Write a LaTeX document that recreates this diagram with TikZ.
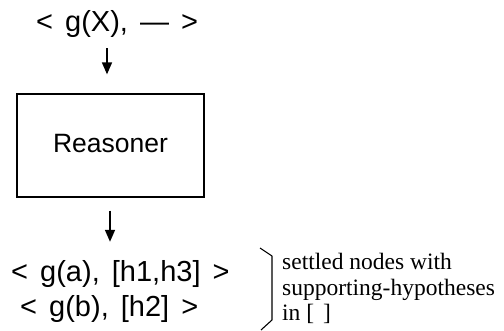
\documentclass[tikz,border=0pt]{standalone}
\usepackage{fontspec}
\setmainfont{Liberation Serif}
\newfontfamily\hv[WordSpace=1.5]{Liberation Sans}
\usetikzlibrary{arrows.meta}
\begin{document}
\begin{tikzpicture}[x=1pt,y=-1pt,
  bigtxt/.style={inner sep=0pt, anchor=base west, font=\hv\fontsize{29}{32}\selectfont},
  note/.style={inner sep=0pt, anchor=base west, font=\fontsize{23.5}{26}\selectfont},
  arr/.style={line width=1.6pt, -{Triangle[length=12pt,width=10pt]}},
  reasonerbox/.style={draw, line width=1.3pt, minimum width=187pt, minimum height=103pt,
    inner sep=0pt, text depth=4pt, font=\hv\fontsize{26.5}{30}\selectfont}]
\useasboundingbox (0,0) rectangle (504,331);
\node[bigtxt] (top) at (36,32) {< g(X), — >};
\node[reasonerbox] (box) at (110.5,145.5) {Reasoner};
\node[bigtxt] (ra) at (11,282) {< g(a), [h1,h3] >};
\node[bigtxt] (rb) at (20,317) {< g(b), [h2] >};
\draw[arr, shorten <=10pt, shorten >=19pt] ([xshift=-3.5pt]box.north |- top.south) -- ([xshift=-3.5pt]box.north);
\draw[arr, shorten <=13pt, shorten >=19pt] ([xshift=-0.5pt]box.south) -- ([xshift=-0.5pt]box.south |- ra.north);
\draw[line width=1.1pt, line join=round] (260,248) -- (272,256) -- (272,320) -- (261,330);
\node[note] (n1) at (282,270) {settled nodes with};
\node[note] (n2) at (282,295.5) {supporting-hypotheses};
\node[note] (n3) at (282,321) {in [\hspace{9pt}]};
\end{tikzpicture}
\end{document}
